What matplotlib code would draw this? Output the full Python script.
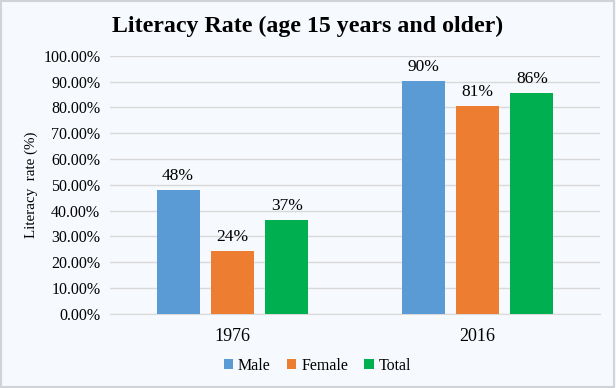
import numpy as np
import matplotlib.pyplot as plt
from matplotlib.patches import Rectangle

plt.rcParams['font.family'] = ['Liberation Serif', 'DejaVu Serif']

years = ['1976', '2016']
series = ['Male', 'Female', 'Total']
male = [48.2, 90.3]
female = [24.5, 80.6]
total = [36.4, 85.7]
labels = [['48%', '90%'], ['24%', '81%'], ['37%', '86%']]
colors = ['#5B9BD5', '#ED7D31', '#00B050']

bg = '#F6F9FD'
fig = plt.figure(figsize=(6.16, 3.88), dpi=100, facecolor=bg)
fig.patches.append(Rectangle((0.002, 0.003), 0.995, 0.994, transform=fig.transFigure,
                             fill=False, edgecolor='#D0D4D9', linewidth=1.5))
ax = fig.add_axes([0.1786, 0.191, 0.7954, 0.665])
ax.set_facecolor(bg)

x = np.arange(len(years))
width = 0.176
step = 0.222
for i, (vals, name) in enumerate(zip([male, female, total], series)):
    pos = x + (i - 1) * step
    bars = ax.bar(pos, vals, width, color=colors[i], label=name, zorder=3)
    for b, lab in zip(bars, labels[i]):
        ax.text(b.get_x() + b.get_width() / 2, b.get_height() + 2.3, lab,
                ha='center', va='bottom', fontsize=12.5)

ax.set_xlim(-0.5, 1.5)
ax.set_ylim(0, 100)
ax.set_yticks(np.arange(0, 101, 10))
ax.set_yticklabels([f'{v:.2f}%' for v in np.arange(0, 101, 10)], fontsize=11.5)
ax.set_xticks(x)
ax.set_xticklabels(years, fontsize=13)
ax.tick_params(axis='y', length=0, pad=7)
ax.tick_params(axis='x', length=0, pad=10)
ax.grid(axis='y', color='#D9D9D9', linewidth=1, zorder=0)
for s in ['top', 'right', 'left']:
    ax.spines[s].set_visible(False)
ax.spines['bottom'].set_color('#D9D9D9')
ax.set_ylabel('Literacy  rate (%)', fontsize=10.8, labelpad=4)

fig.suptitle('Literacy Rate (age 15 years and older)', fontsize=17.2, fontweight='bold', y=0.958)
fig.legend(loc='lower center', bbox_to_anchor=(0.515, 0.0), ncol=3, frameon=False,
           fontsize=11.5, handlelength=0.6, handleheight=0.6, handletextpad=0.3,
           columnspacing=1.0)

fig.savefig('out.png', dpi=100, facecolor=bg)
